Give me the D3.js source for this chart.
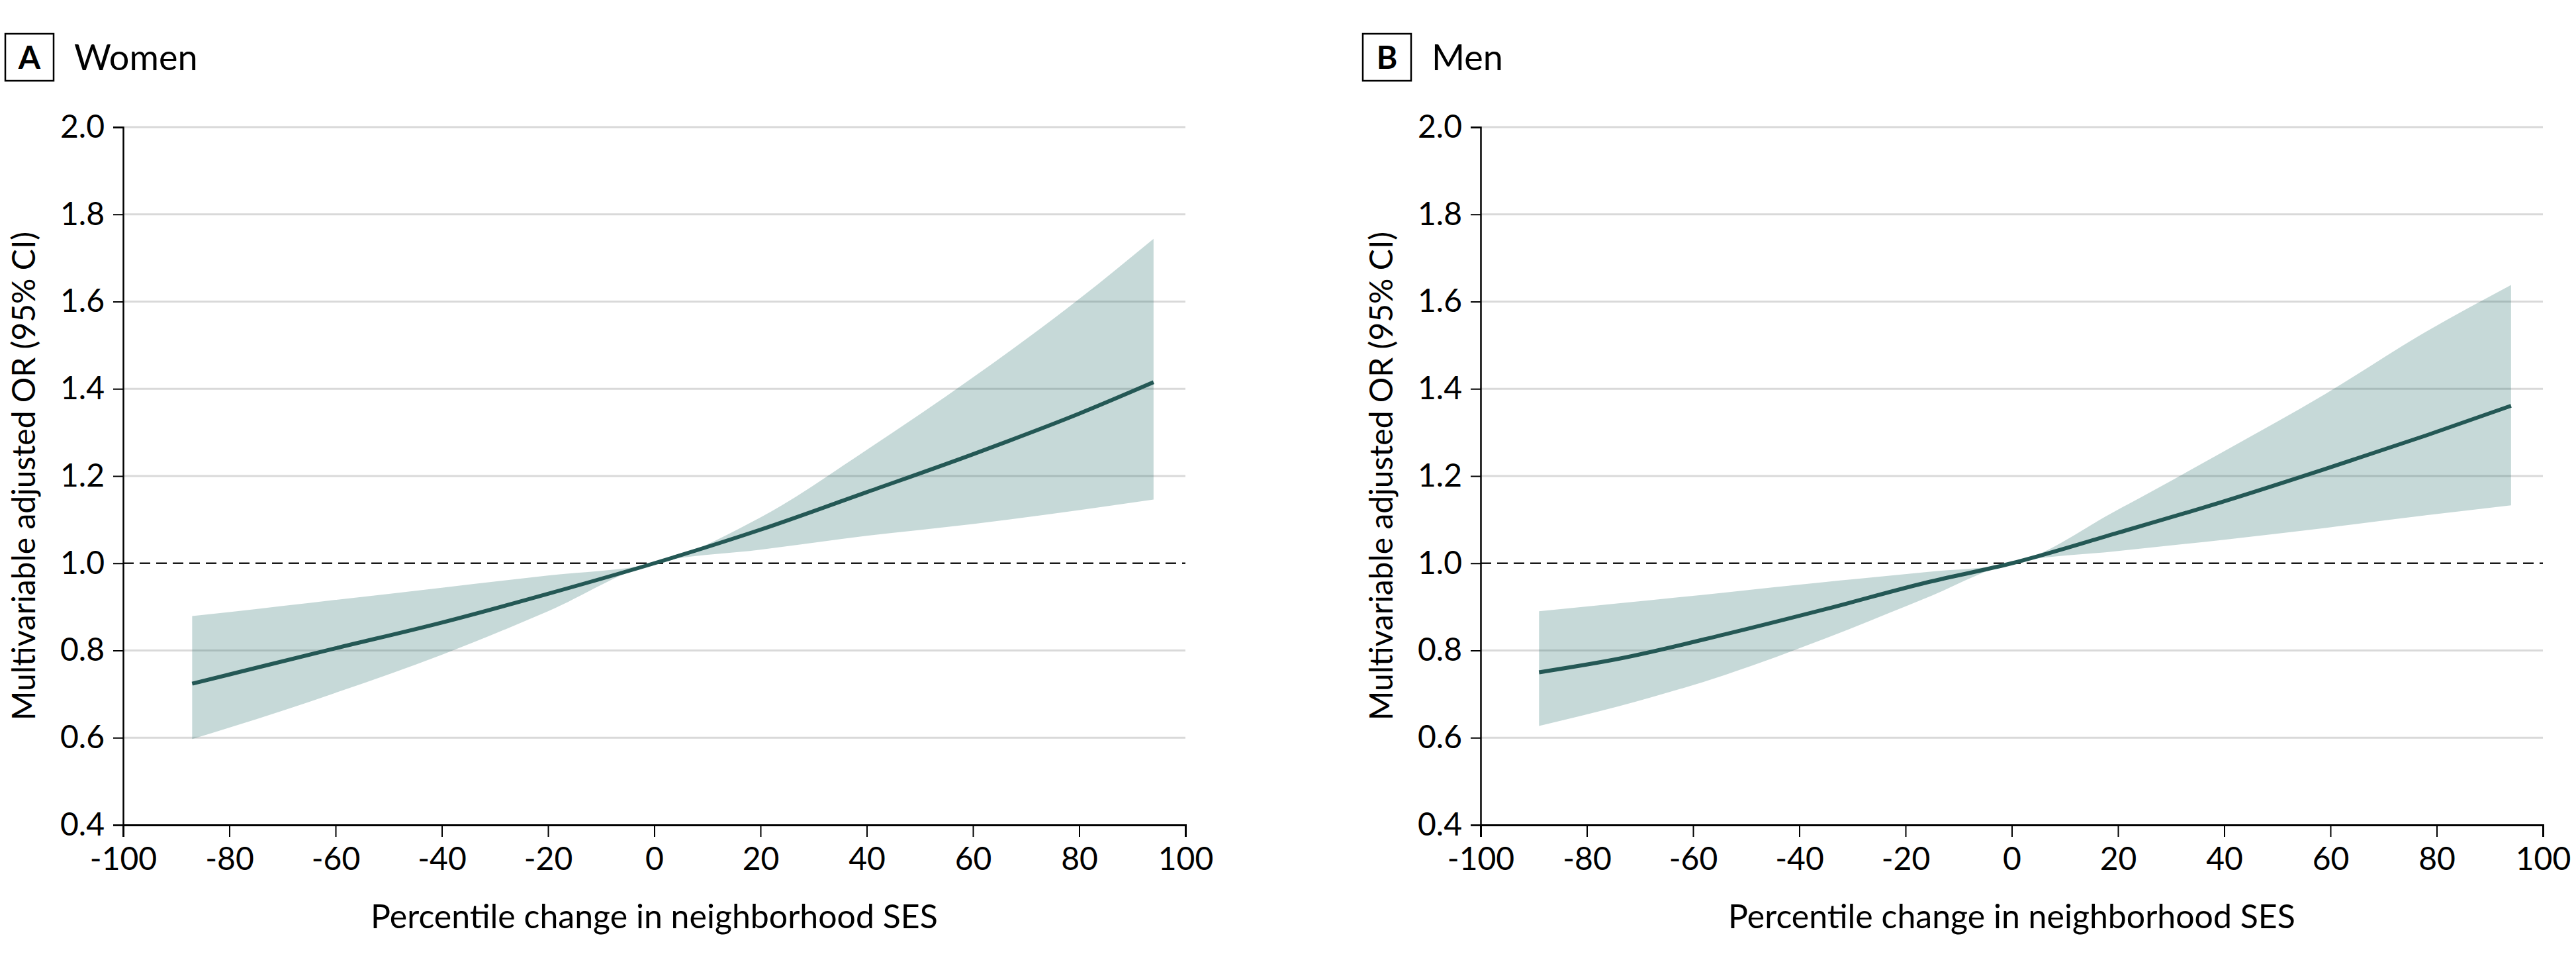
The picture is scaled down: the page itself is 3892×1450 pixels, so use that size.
<!DOCTYPE html>
<html>
<head>
<meta charset="utf-8">
<script src="https://cdn.jsdelivr.net/npm/d3@7"></script>
<style>
  html, body { margin: 0; padding: 0; background: #fff; }
  svg { display: block; }
  text { font-family: Lato, "Open Sans", "Noto Sans", sans-serif; fill: #000; }
</style>
</head>
<body>
<svg id="chart" width="3892" height="1450"></svg>
<script>
// ---------- data ----------
const xTicks = [-100, -80, -60, -40, -20, 0, 20, 40, 60, 80, 100];
const xTickLabels = ["-100", "-80", "-60", "-40", "-20", "0", "20", "40", "60", "80", "100"];
const yTicks = [0.4, 0.6, 0.8, 1.0, 1.2, 1.4, 1.6, 1.8, 2.0];
const yTickLabels = ["0.4", "0.6", "0.8", "1.0", "1.2", "1.4", "1.6", "1.8", "2.0"];

const panelLetters = ["A", "B"];
const panelTitles = ["Women", "Men"];
const xTitle = "Percentile change in neighborhood SES";
const yTitle = "Multivariable adjusted OR (95% CI)";

const womenX     = [-87, -80, -60, -40, -20, 0, 20, 40, 60, 80, 94];
const womenOR    = [0.724, 0.745, 0.805, 0.864, 0.930, 1.0, 1.077, 1.163, 1.250, 1.343, 1.415];
const womenLower = [0.597, 0.623, 0.703, 0.790, 0.890, 1.0, 1.031, 1.063, 1.090, 1.122, 1.146];
const womenUpper = [0.879, 0.888, 0.916, 0.944, 0.972, 1.0, 1.105, 1.260, 1.426, 1.606, 1.744];

const menX     = [-89, -74, -54, -35, -16, 0, 20, 40, 59, 78, 94];
const menOR    = [0.750, 0.781, 0.837, 0.895, 0.956, 1.0, 1.070, 1.142, 1.216, 1.293, 1.361];
const menLower = [0.627, 0.672, 0.744, 0.828, 0.921, 1.0, 1.028, 1.054, 1.081, 1.110, 1.133];
const menUpper = [0.890, 0.908, 0.933, 0.957, 0.980, 1.0, 1.123, 1.257, 1.388, 1.531, 1.638];

const referenceOR = 1.0;

// ---------- drawing ----------
const svg = d3.select("#chart");

const panels = [
  { letter: panelLetters[0], title: panelTitles[0], x: womenX, or: womenOR, lo: womenLower, hi: womenUpper, left: 186 },
  { letter: panelLetters[1], title: panelTitles[1], x: menX, or: menOR, lo: menLower, hi: menUpper, left: 2237 }
];

const plotW = 1605, plotTop = 192, plotBottom = 1246;
const lineColor = "#245855";

panels.forEach(p => {
  const g = svg.append("g");
  const x = d3.scaleLinear().domain([-100, 100]).range([p.left, p.left + plotW]);
  const y = d3.scaleLinear().domain([0.4, 2.0]).range([plotBottom, plotTop]);

  // gridlines
  g.append("g").selectAll("line")
    .data(yTicks.filter(v => v !== 0.4 && v !== referenceOR))
    .join("line")
    .attr("x1", x(-100)).attr("x2", x(100))
    .attr("y1", d => y(d)).attr("y2", d => y(d))
    .attr("stroke", "#d9d9d9").attr("stroke-width", 3);

  // reference dashed line
  g.append("line")
    .attr("x1", x(-100)).attr("x2", x(100))
    .attr("y1", y(referenceOR)).attr("y2", y(referenceOR))
    .attr("stroke", "#1a1a1a").attr("stroke-width", 2.5)
    .attr("stroke-dasharray", "16 9");

  const pts = p.x.map((v, i) => ({ x: v, or: p.or[i], lo: p.lo[i], hi: p.hi[i] }));

  // CI band
  g.append("path")
    .datum(pts)
    .attr("d", d3.area().x(d => x(d.x)).y0(d => y(d.lo)).y1(d => y(d.hi)).curve(d3.curveMonotoneX))
    .attr("fill", "#0e5e5a").attr("fill-opacity", 0.237);

  // OR line
  g.append("path")
    .datum(pts)
    .attr("d", d3.line().x(d => x(d.x)).y(d => y(d.or)).curve(d3.curveMonotoneX))
    .attr("fill", "none").attr("stroke", lineColor).attr("stroke-width", 6);

  // y axis
  const yAxis = g.append("g")
    .attr("transform", `translate(${x(-100)},0)`)
    .call(d3.axisLeft(y).tickValues(yTicks).tickFormat((d, i) => yTickLabels[i]).tickSize(15).tickPadding(13));
  yAxis.select(".domain").attr("stroke", "#000").attr("stroke-width", 2.5);
  yAxis.selectAll(".tick line").attr("stroke", "#000").attr("stroke-width", 2);
  yAxis.selectAll(".tick text").attr("font-size", 48).attr("font-family", "Lato, sans-serif").attr("fill", "#000");

  // x axis
  const xAxis = g.append("g")
    .attr("transform", `translate(0,${plotBottom})`)
    .call(d3.axisBottom(x).tickValues(xTicks).tickFormat((d, i) => xTickLabels[i]).tickSize(18).tickPadding(16));
  xAxis.select(".domain").attr("stroke", "#000").attr("stroke-width", 3);
  xAxis.selectAll(".tick line").attr("stroke", "#000").attr("stroke-width", 2);
  xAxis.selectAll(".tick text").attr("font-size", 48).attr("font-family", "Lato, sans-serif").attr("fill", "#000");

  // x title
  g.append("text")
    .attr("x", (x(-100) + x(100)) / 2).attr("y", 1402)
    .attr("text-anchor", "middle").attr("font-size", 50)
    .text(xTitle);

  // y title
  g.append("text")
    .attr("transform", `translate(${p.left - 133},${(plotTop + plotBottom) / 2}) rotate(-90)`)
    .attr("text-anchor", "middle").attr("font-size", 48)
    .text(yTitle);

  // panel header
  g.append("rect")
    .attr("x", p.left - 178).attr("y", 51).attr("width", 73).attr("height", 71)
    .attr("fill", "none").attr("stroke", "#000").attr("stroke-width", 2.5);
  g.append("text")
    .attr("x", p.left - 178 + 36.5).attr("y", 104)
    .attr("text-anchor", "middle").attr("font-size", 48).attr("font-weight", "bold")
    .text(p.letter);
  g.append("text")
    .attr("x", p.left - 74).attr("y", 106)
    .attr("font-size", 54)
    .text(p.title);
});
</script>
</body>
</html>
